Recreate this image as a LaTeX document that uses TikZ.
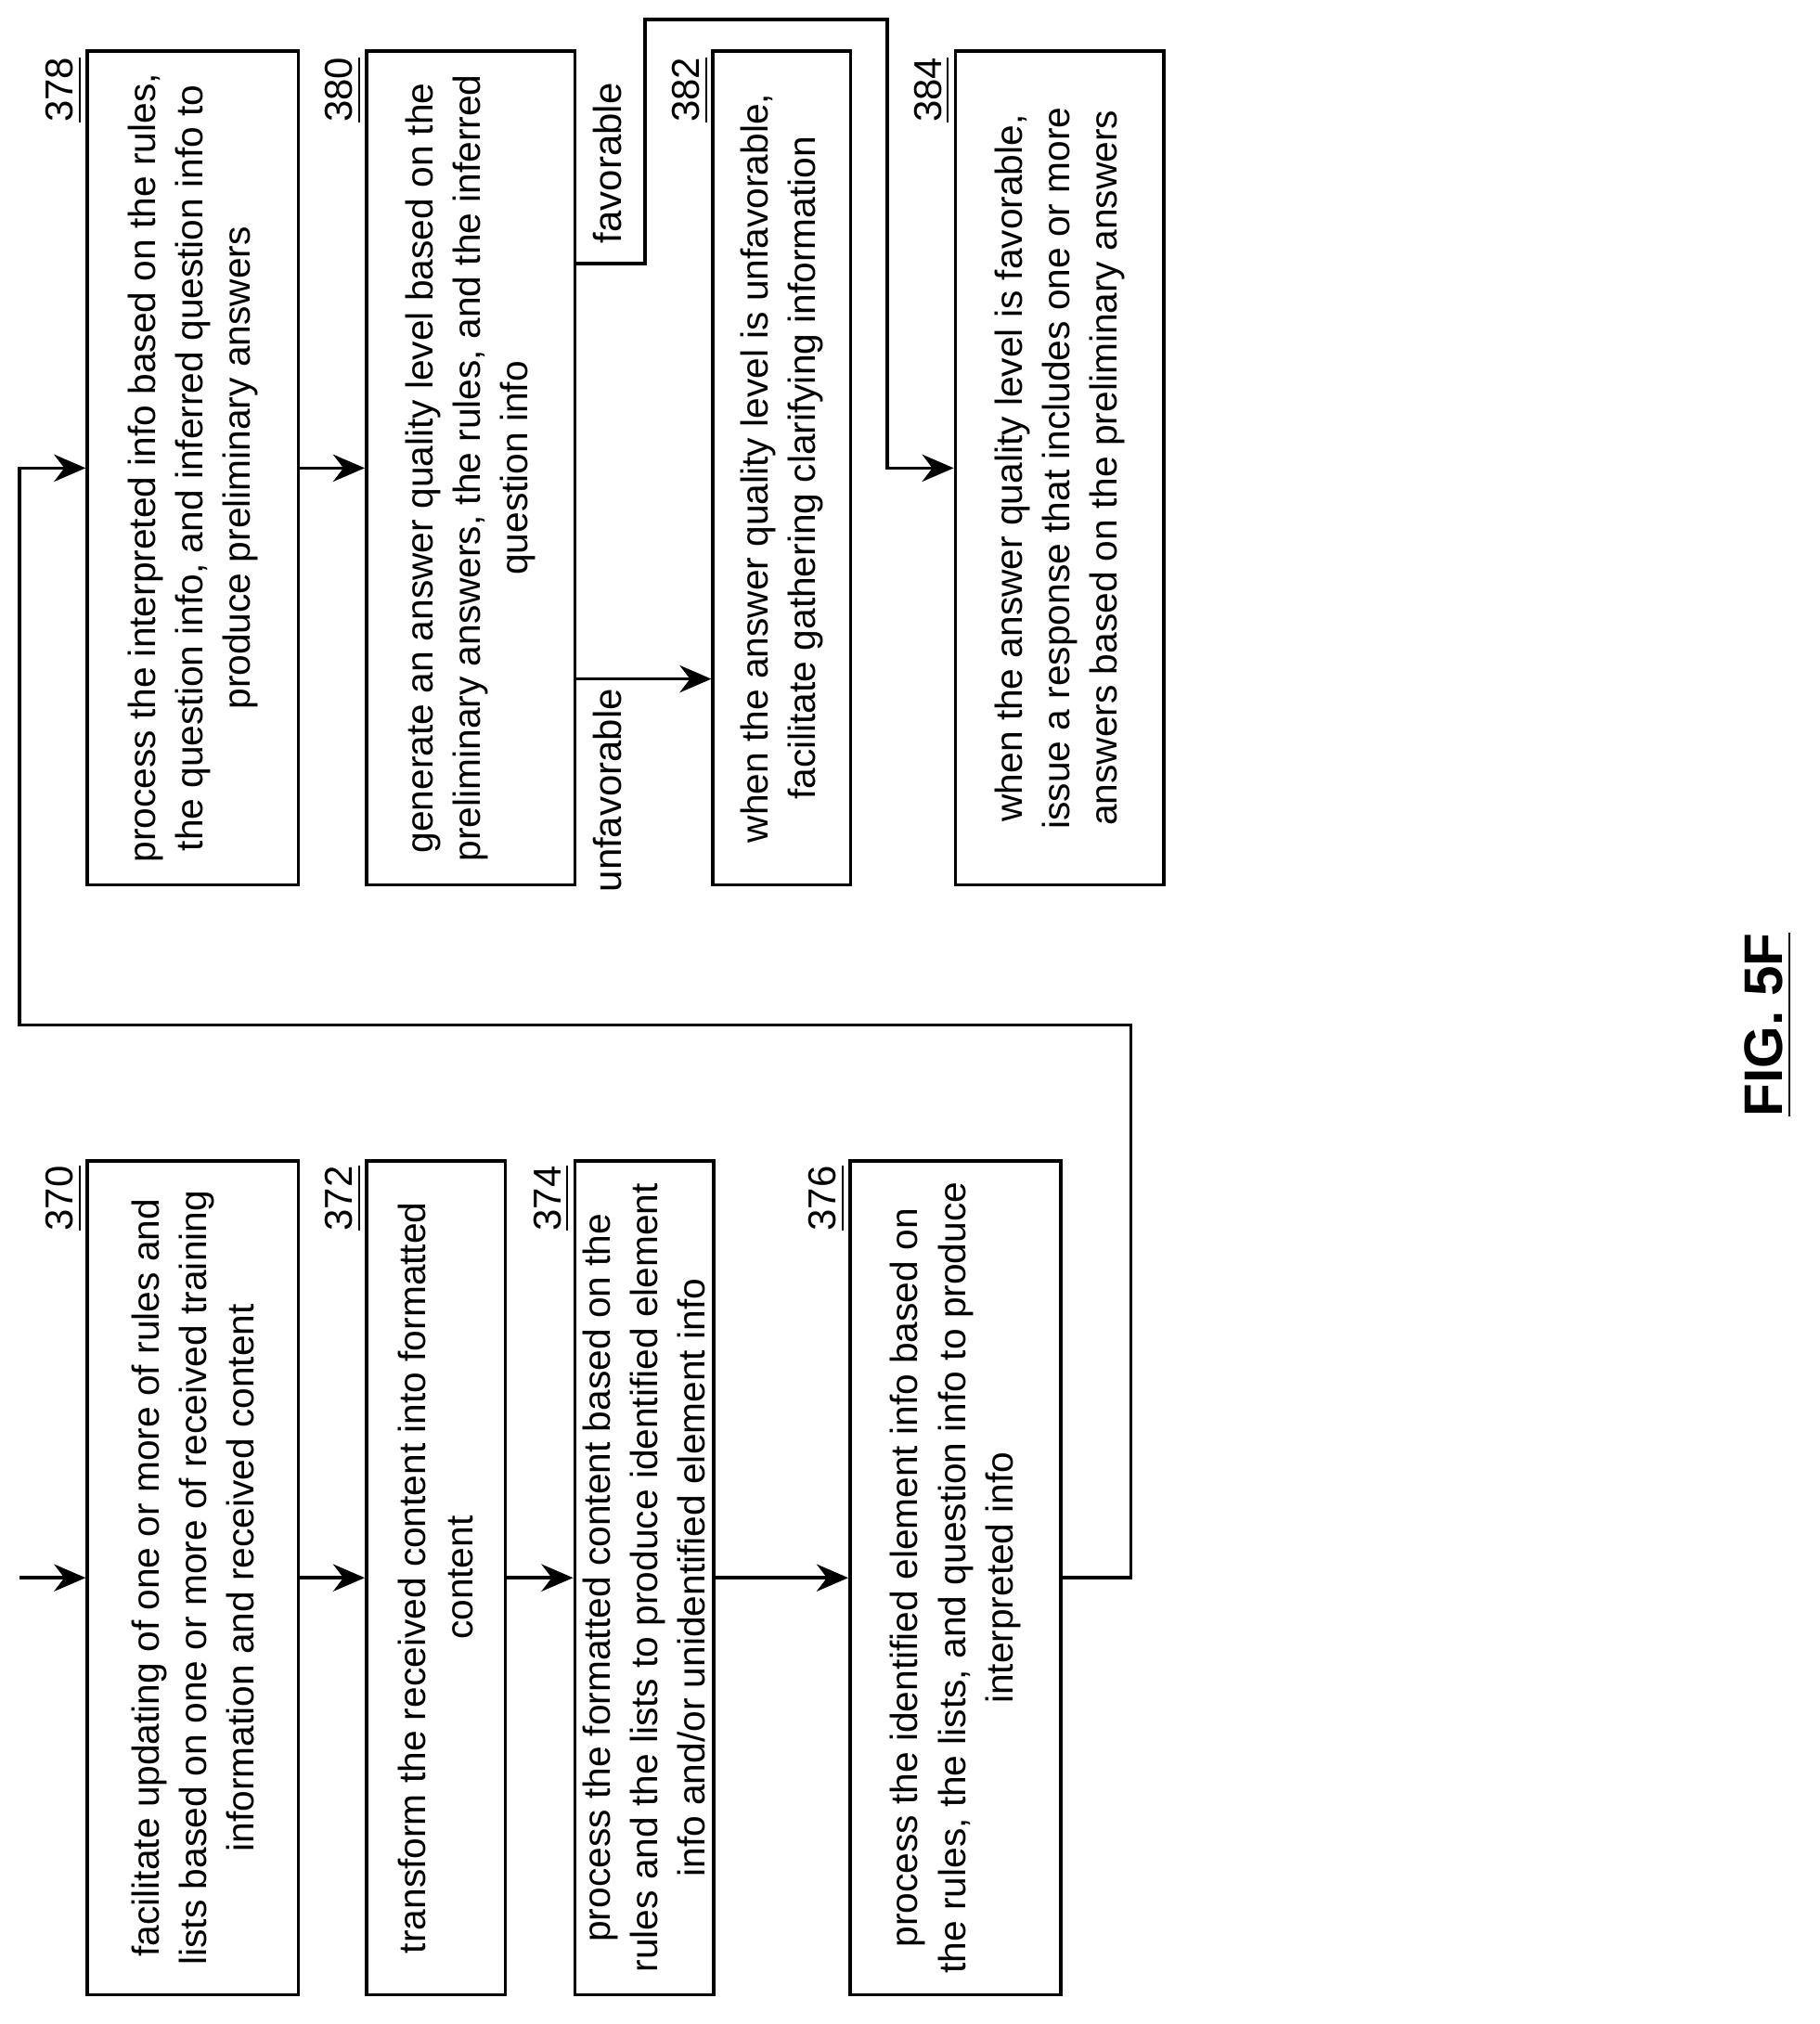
\documentclass[tikz,border=0pt]{standalone}
\usepackage{fontspec}
\setmainfont{Liberation Sans}
\usetikzlibrary{arrows.meta}

\tikzset{
  stepbox/.style={draw, line width=0.75pt, rotate=90, minimum width=6.48cm, align=center,
    font=\fontsize{8.35}{10.5}\selectfont, inner sep=0pt},
  refnum/.style={rotate=90, font=\fontsize{8.6}{10.4}\selectfont, inner sep=0pt},
  flow/.style={line width=0.75pt, -{Stealth[length=7pt,width=6pt]}},
}

\begin{document}
\begin{tikzpicture}[x=0.01cm, y=0.01cm]
  \useasboundingbox (0,0) rectangle (1415,-1574);
  % left column
  \node[stepbox, minimum height=1.64cm] (a370) at (150,-1227) {facilitate updating of one or more of rules and\\lists based on one or more of received training\\information and received content};
  \node[stepbox, minimum height=1.08cm] (a372) at (339,-1227) {transform the received content into formatted\\content};
  \node[stepbox, minimum height=1.08cm] (a374) at (501,-1227) {process the formatted content based on the\\rules and the lists to produce identified element\\info and/or unidentified element info};
  \node[stepbox, minimum height=1.64cm] (a376) at (743,-1227) {process the identified element info based on\\the rules, the lists, and question info to produce\\interpreted info};
  % right column
  \node[stepbox, minimum height=1.64cm] (a378) at (150,-364) {process the interpreted info based on the rules,\\the question info, and inferred question info to\\produce preliminary answers};
  \node[stepbox, minimum height=1.62cm] (a380) at (366,-364) {generate an answer quality level based on the\\preliminary answers, the rules, and the inferred\\question info};
  \node[stepbox, minimum height=1.07cm] (a382) at (608,-364) {when the answer quality level is unfavorable,\\facilitate gathering clarifying information};
  \node[stepbox, minimum height=1.62cm] (a384) at (824,-364) {when the answer quality level is favorable,\\issue a response that includes one or more\\answers based on the preliminary answers};
  % reference numerals
  \node[refnum] (n370) at (50,-932) {\underline{370}};
  \node[refnum] (n372) at (267,-932) {\underline{372}};
  \node[refnum] (n374) at (429,-932) {\underline{374}};
  \node[refnum] (n376) at (643,-932) {\underline{376}};
  \node[refnum] (n378) at (50,-70) {\underline{378}};
  \node[refnum] (n380) at (267,-70) {\underline{380}};
  \node[refnum] (n382) at (537,-70) {\underline{382}};
  \node[refnum] (n384) at (725,-70) {\underline{384}};

  \coordinate (entry) at (15,-1227);
  \coordinate (loop) at (15,-797);
  \coordinate (fav) at (0,-205);
  \coordinate (unf) at (0,-528);
  \coordinate (top) at (690,-15);

  \draw[flow] (entry) -- (a370.north);
  \draw[flow] (a370.south) -- (a372.north);
  \draw[flow] (a372.south) -- (a374.north);
  \draw[flow] (a374.south) -- (a376.north);
  \draw[flow] (a376.south) -- ++(53,0) |- (loop) |- (a378.north);
  \draw[flow] (a378.south) -- (a380.north);
  \draw[flow] (a380.south |- unf) -- (a382.north |- unf);
  \draw[flow] (a380.south |- fav) -- ++(53,0) |- (top) |- (a384.north);

  \node[refnum, anchor=east] (lunf) at (472,-535) {unfavorable};
  \node[refnum, anchor=east] (lfav) at (472,-64) {favorable};

  \node[rotate=90, font=\fontsize{12}{14}\selectfont\bfseries] (fig) at (1375,-797) {\underline{FIG. 5F}};
\end{tikzpicture}
\end{document}
